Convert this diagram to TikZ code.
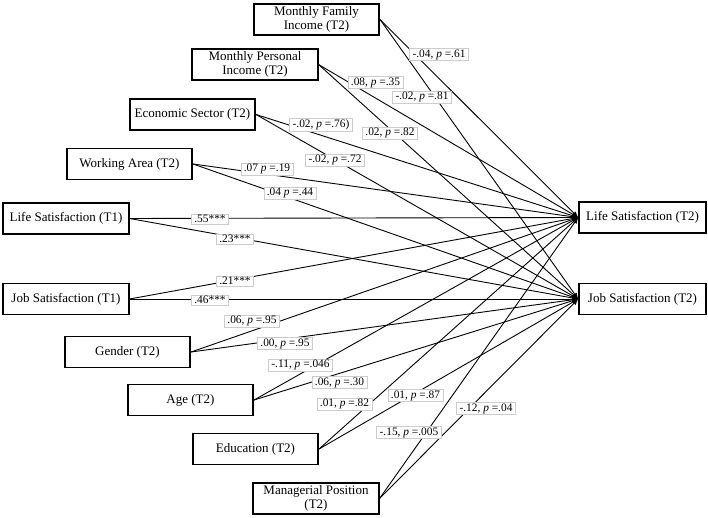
\documentclass[tikz,border=0pt]{standalone}
\usepackage{fontspec}
\setmainfont{Liberation Serif}
\usetikzlibrary{arrows.meta}

\begin{document}
\begin{tikzpicture}[x=1pt, y=-1pt,
  var/.style={draw, line width=1.6pt, minimum width=125.5pt, minimum height=31pt,
              inner sep=2pt, align=center, font=\fontsize{13}{14.5}\selectfont},
  link/.style={line width=0.9pt, -{Latex[length=6pt, width=5pt]}},
  coef/.style={draw=black!20, line width=0.5pt, fill=white, inner xsep=3pt,
               inner ysep=1.2pt, font=\fontsize{11.4}{13}\selectfont}]

\useasboundingbox (0,0) rectangle (708,518);

% ------------------------------------------------------------------
% PREDICTORS (left, staggered)
% ------------------------------------------------------------------
\node[var] (famInc)  at (316.5,19.5) {Monthly Family\\Income (T2)};
\node[var] (persInc) at (255,64.5)   {Monthly Personal\\Income (T2)};
\node[var] (econ)    at (192.5,114.5) {Economic Sector (T2)};
\node[var] (work)    at (129.5,164)  {Working Area (T2)};
\node[var] (lifeA)   at (66,218.5)   {Life Satisfaction (T1)};
\node[var] (jobA)    at (66,299)     {Job Satisfaction (T1)};
\node[var] (gender)  at (127.5,352)  {Gender (T2)};
\node[var] (age)     at (190.5,400)  {Age (T2)};
\node[var] (edu)     at (255.5,449)  {Education (T2)};
\node[var] (mgr)     at (316,498.5)  {Managerial Position\\(T2)};

% ------------------------------------------------------------------
% OUTCOMES (right)
% ------------------------------------------------------------------
\node[var, minimum width=127pt] (lifeB) at (642.5,217.5) {Life Satisfaction (T2)};
\node[var, minimum width=127pt] (jobB)  at (642.5,299)   {Job Satisfaction (T2)};

% ------------------------------------------------------------------
% PATHS: every predictor to both outcomes
% ------------------------------------------------------------------
\foreach \s in {famInc,persInc,econ,work,lifeA,jobA,gender,age,edu,mgr} {
  \draw[link] (\s.east) -- (lifeB.west);
  \draw[link] (\s.east) -- (jobB.west);
}

% ------------------------------------------------------------------
% COEFFICIENTS
% ------------------------------------------------------------------
\node[coef] (cFamL)  at (439,54.5)   {-.04, \textit{p} =.61};
\node[coef] (cFamJ)  at (422,97)     {-.02, \textit{p} =.81};
\node[coef] (cPerL)  at (375.5,82.5) {.08, \textit{p} =.35};
\node[coef] (cPerJ)  at (390,133)    {.02, \textit{p} =.82};
\node[coef] (cEcoL)  at (321,125)    {-.02, \textit{p} =.76)};
\node[coef] (cEcoJ)  at (335,160)    {-.02, \textit{p} =.72};
\node[coef] (cWorL)  at (267,169)    {.07 \textit{p} =.19};
\node[coef] (cWorJ)  at (290,193)    {.04 \textit{p} =.44};
\node[coef] (cLifL)  at (210,219)    {.55***};
\node[coef] (cLifJ)  at (235,239)    {.23***};
\node[coef] (cJobL)  at (235,281)    {.21***};
\node[coef] (cJobJ)  at (210,300)    {.46***};
\node[coef] (cGenL)  at (252,321)    {.06, \textit{p} =.95};
\node[coef] (cGenJ)  at (285,343.5)  {.00, \textit{p} =.95};
\node[coef] (cAgeL)  at (300.5,365)  {-.11, \textit{p} =.046};
\node[coef] (cAgeJ)  at (339.5,382.5) {.06, \textit{p} =.30};
\node[coef] (cEduL)  at (344.5,404)  {.01, \textit{p} =.82};
\node[coef] (cEduJ)  at (415.5,395.5) {.01, \textit{p} =.87};
\node[coef] (cMgrL)  at (409,432.5)  {-.15, \textit{p} =.005};
\node[coef] (cMgrJ)  at (486,408.5)  {-.12, \textit{p} =.04};

\end{tikzpicture}
\end{document}
